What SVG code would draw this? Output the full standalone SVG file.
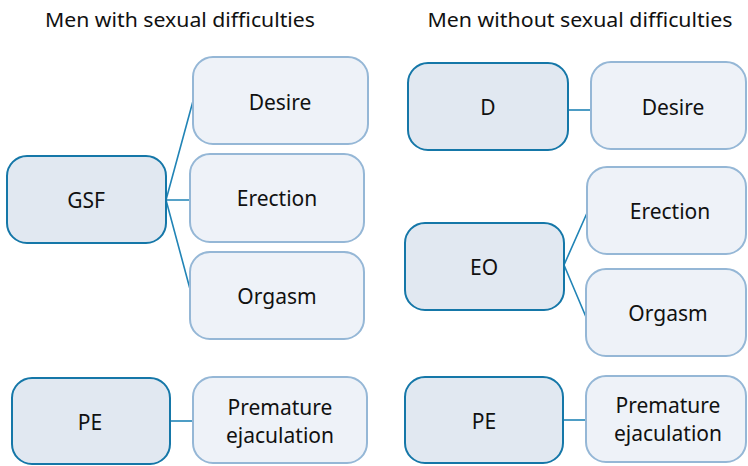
<svg xmlns="http://www.w3.org/2000/svg" width="748" height="466" viewBox="0 0 748 466">
<style>
text{font-family:"Noto Sans","Open Sans",sans-serif;fill:#111;text-anchor:middle}
.t{font-size:19px}
.n{font-size:21px}
.dk{fill:#e1e8f1;stroke:#1577a8;stroke-width:2}
.lt{fill:#eef2f8;stroke:#95b7d6;stroke-width:2}
.c{stroke:#2184b6;stroke-width:1.6;fill:none}
</style>
<rect width="748" height="466" fill="#fff"/>
<text class="t" x="180" y="27" textLength="270" lengthAdjust="spacingAndGlyphs">Men with sexual difficulties</text>
<text class="t" x="580" y="27" textLength="305" lengthAdjust="spacingAndGlyphs">Men without sexual difficulties</text>
<g id="connectors">
<path class="c" d="M166,200 L193,101 M166,200 L190,200 M166,200 L190,289"/>
<path class="c" d="M170,421 L193,421"/>
<path class="c" d="M568,110 L591,110"/>
<path class="c" d="M564,265 L587,213 M564,265 L586,317"/>
<path class="c" d="M563,420 L586,420"/>
</g>
<g id="gsf"><rect class="dk" x="7" y="156" width="159" height="87" rx="20"/><text class="n" x="86" y="208">GSF</text></g>
<g id="desire-l"><rect class="lt" x="193" y="57" width="175" height="87" rx="20"/><text class="n" x="280" y="110">Desire</text></g>
<g id="erection-l"><rect class="lt" x="190" y="154" width="174" height="88" rx="20"/><text class="n" x="277" y="206">Erection</text></g>
<g id="orgasm-l"><rect class="lt" x="190" y="252" width="174" height="87" rx="20"/><text class="n" x="277" y="304">Orgasm</text></g>
<g id="pe-l"><rect class="dk" x="12" y="378" width="158" height="86" rx="20"/><text class="n" x="90" y="430">PE</text></g>
<g id="premature-l"><rect class="lt" x="193" y="377" width="174" height="86" rx="20"/><text class="n" x="280" y="415">Premature</text><text class="n" x="280" y="443">ejaculation</text></g>
<g id="d"><rect class="dk" x="408" y="63" width="160" height="87" rx="20"/><text class="n" x="488" y="115">D</text></g>
<g id="desire-r"><rect class="lt" x="591" y="62" width="155" height="87" rx="20"/><text class="n" x="673" y="115">Desire</text></g>
<g id="eo"><rect class="dk" x="405" y="223" width="159" height="87" rx="20"/><text class="n" x="484" y="275">EO</text></g>
<g id="erection-r"><rect class="lt" x="587" y="167" width="159" height="87" rx="20"/><text class="n" x="670" y="219">Erection</text></g>
<g id="orgasm-r"><rect class="lt" x="586" y="269" width="160" height="87" rx="20"/><text class="n" x="668" y="321">Orgasm</text></g>
<g id="pe-r"><rect class="dk" x="405" y="377" width="158" height="86" rx="20"/><text class="n" x="484" y="429">PE</text></g>
<g id="premature-r"><rect class="lt" x="586" y="376" width="160" height="86" rx="20"/><text class="n" x="668" y="413">Premature</text><text class="n" x="668" y="441">ejaculation</text></g>
</svg>
